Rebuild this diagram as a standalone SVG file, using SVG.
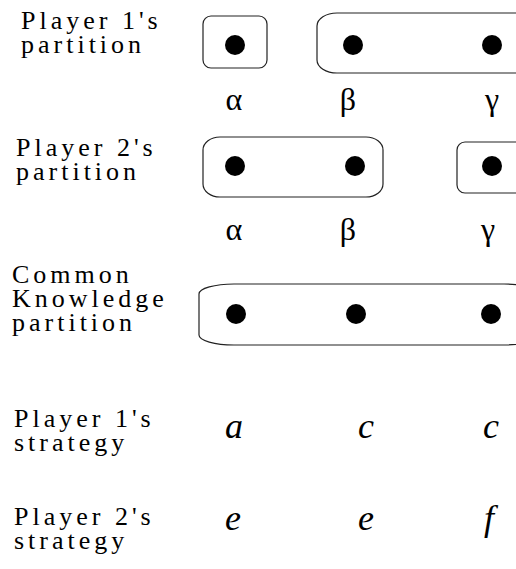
<svg xmlns="http://www.w3.org/2000/svg" width="516" height="569" viewBox="0 0 516 569">
<rect width="516" height="569" fill="#fff"/>
<g id="labels">
<text x="21" y="29" font-family="Liberation Serif" font-size="26" letter-spacing="4">Player 1's</text>
<text x="21" y="53" font-family="Liberation Serif" font-size="26" letter-spacing="4">partition</text>
<text x="16" y="156" font-family="Liberation Serif" font-size="26" letter-spacing="4">Player 2's</text>
<text x="16" y="180" font-family="Liberation Serif" font-size="26" letter-spacing="4">partition</text>
<text x="12" y="283" font-family="Liberation Serif" font-size="26" letter-spacing="4">Common</text>
<text x="12" y="307" font-family="Liberation Serif" font-size="26" letter-spacing="4">Knowledge</text>
<text x="12" y="331" font-family="Liberation Serif" font-size="26" letter-spacing="4">partition</text>
<text x="14" y="427" font-family="Liberation Serif" font-size="26" letter-spacing="4">Player 1's</text>
<text x="14" y="451" font-family="Liberation Serif" font-size="26" letter-spacing="4">strategy</text>
<text x="14" y="525" font-family="Liberation Serif" font-size="26" letter-spacing="4">Player 2's</text>
<text x="14" y="549" font-family="Liberation Serif" font-size="26" letter-spacing="4">strategy</text>
</g>
<g id="boxes" fill="none" stroke="#222" stroke-width="1.2">
<rect id="p1-alpha" x="203" y="16" width="64" height="52" rx="8" ry="8"/>
<rect id="p1-betagamma" x="317" y="13" width="220" height="60" rx="20" ry="13"/>
<rect id="p2-alphabeta" x="203" y="137" width="180" height="60" rx="17" ry="13"/>
<rect id="p2-gamma" x="457" y="142" width="80" height="51" rx="8" ry="8"/>
<rect id="ck" x="199" y="284" width="340" height="61" rx="35" ry="10"/>
</g>
<g id="dots" fill="#000">
<circle cx="235" cy="45" r="10"/>
<circle cx="353" cy="45" r="10"/>
<circle cx="492" cy="45" r="10"/>
<circle cx="235" cy="166" r="10"/>
<circle cx="355" cy="166" r="10"/>
<circle cx="492" cy="166" r="10"/>
<circle cx="236" cy="314" r="10"/>
<circle cx="356" cy="314" r="10"/>
<circle cx="491" cy="314" r="10"/>
</g>
<g id="greek">
<text x="234" y="110" text-anchor="middle" font-family="Liberation Serif" font-size="32">α</text>
<text x="348" y="110" text-anchor="middle" font-family="Liberation Serif" font-size="32">β</text>
<text x="492" y="110" text-anchor="middle" font-family="Liberation Serif" font-size="32">γ</text>
<text x="234" y="240" text-anchor="middle" font-family="Liberation Serif" font-size="32">α</text>
<text x="348" y="240" text-anchor="middle" font-family="Liberation Serif" font-size="32">β</text>
<text x="488" y="240" text-anchor="middle" font-family="Liberation Serif" font-size="32">γ</text>
</g>
<g id="strategies">
<text x="234" y="438" text-anchor="middle" font-family="Liberation Serif" font-size="36" font-style="italic">a</text>
<text x="366" y="438" text-anchor="middle" font-family="Liberation Serif" font-size="36" font-style="italic">c</text>
<text x="491" y="438" text-anchor="middle" font-family="Liberation Serif" font-size="36" font-style="italic">c</text>
<text x="233" y="530" text-anchor="middle" font-family="Liberation Serif" font-size="36" font-style="italic">e</text>
<text x="366" y="530" text-anchor="middle" font-family="Liberation Serif" font-size="36" font-style="italic">e</text>
<text x="489" y="530" text-anchor="middle" font-family="Liberation Serif" font-size="36" font-style="italic">f</text>
</g>
<g id="connectors"/>
</svg>
